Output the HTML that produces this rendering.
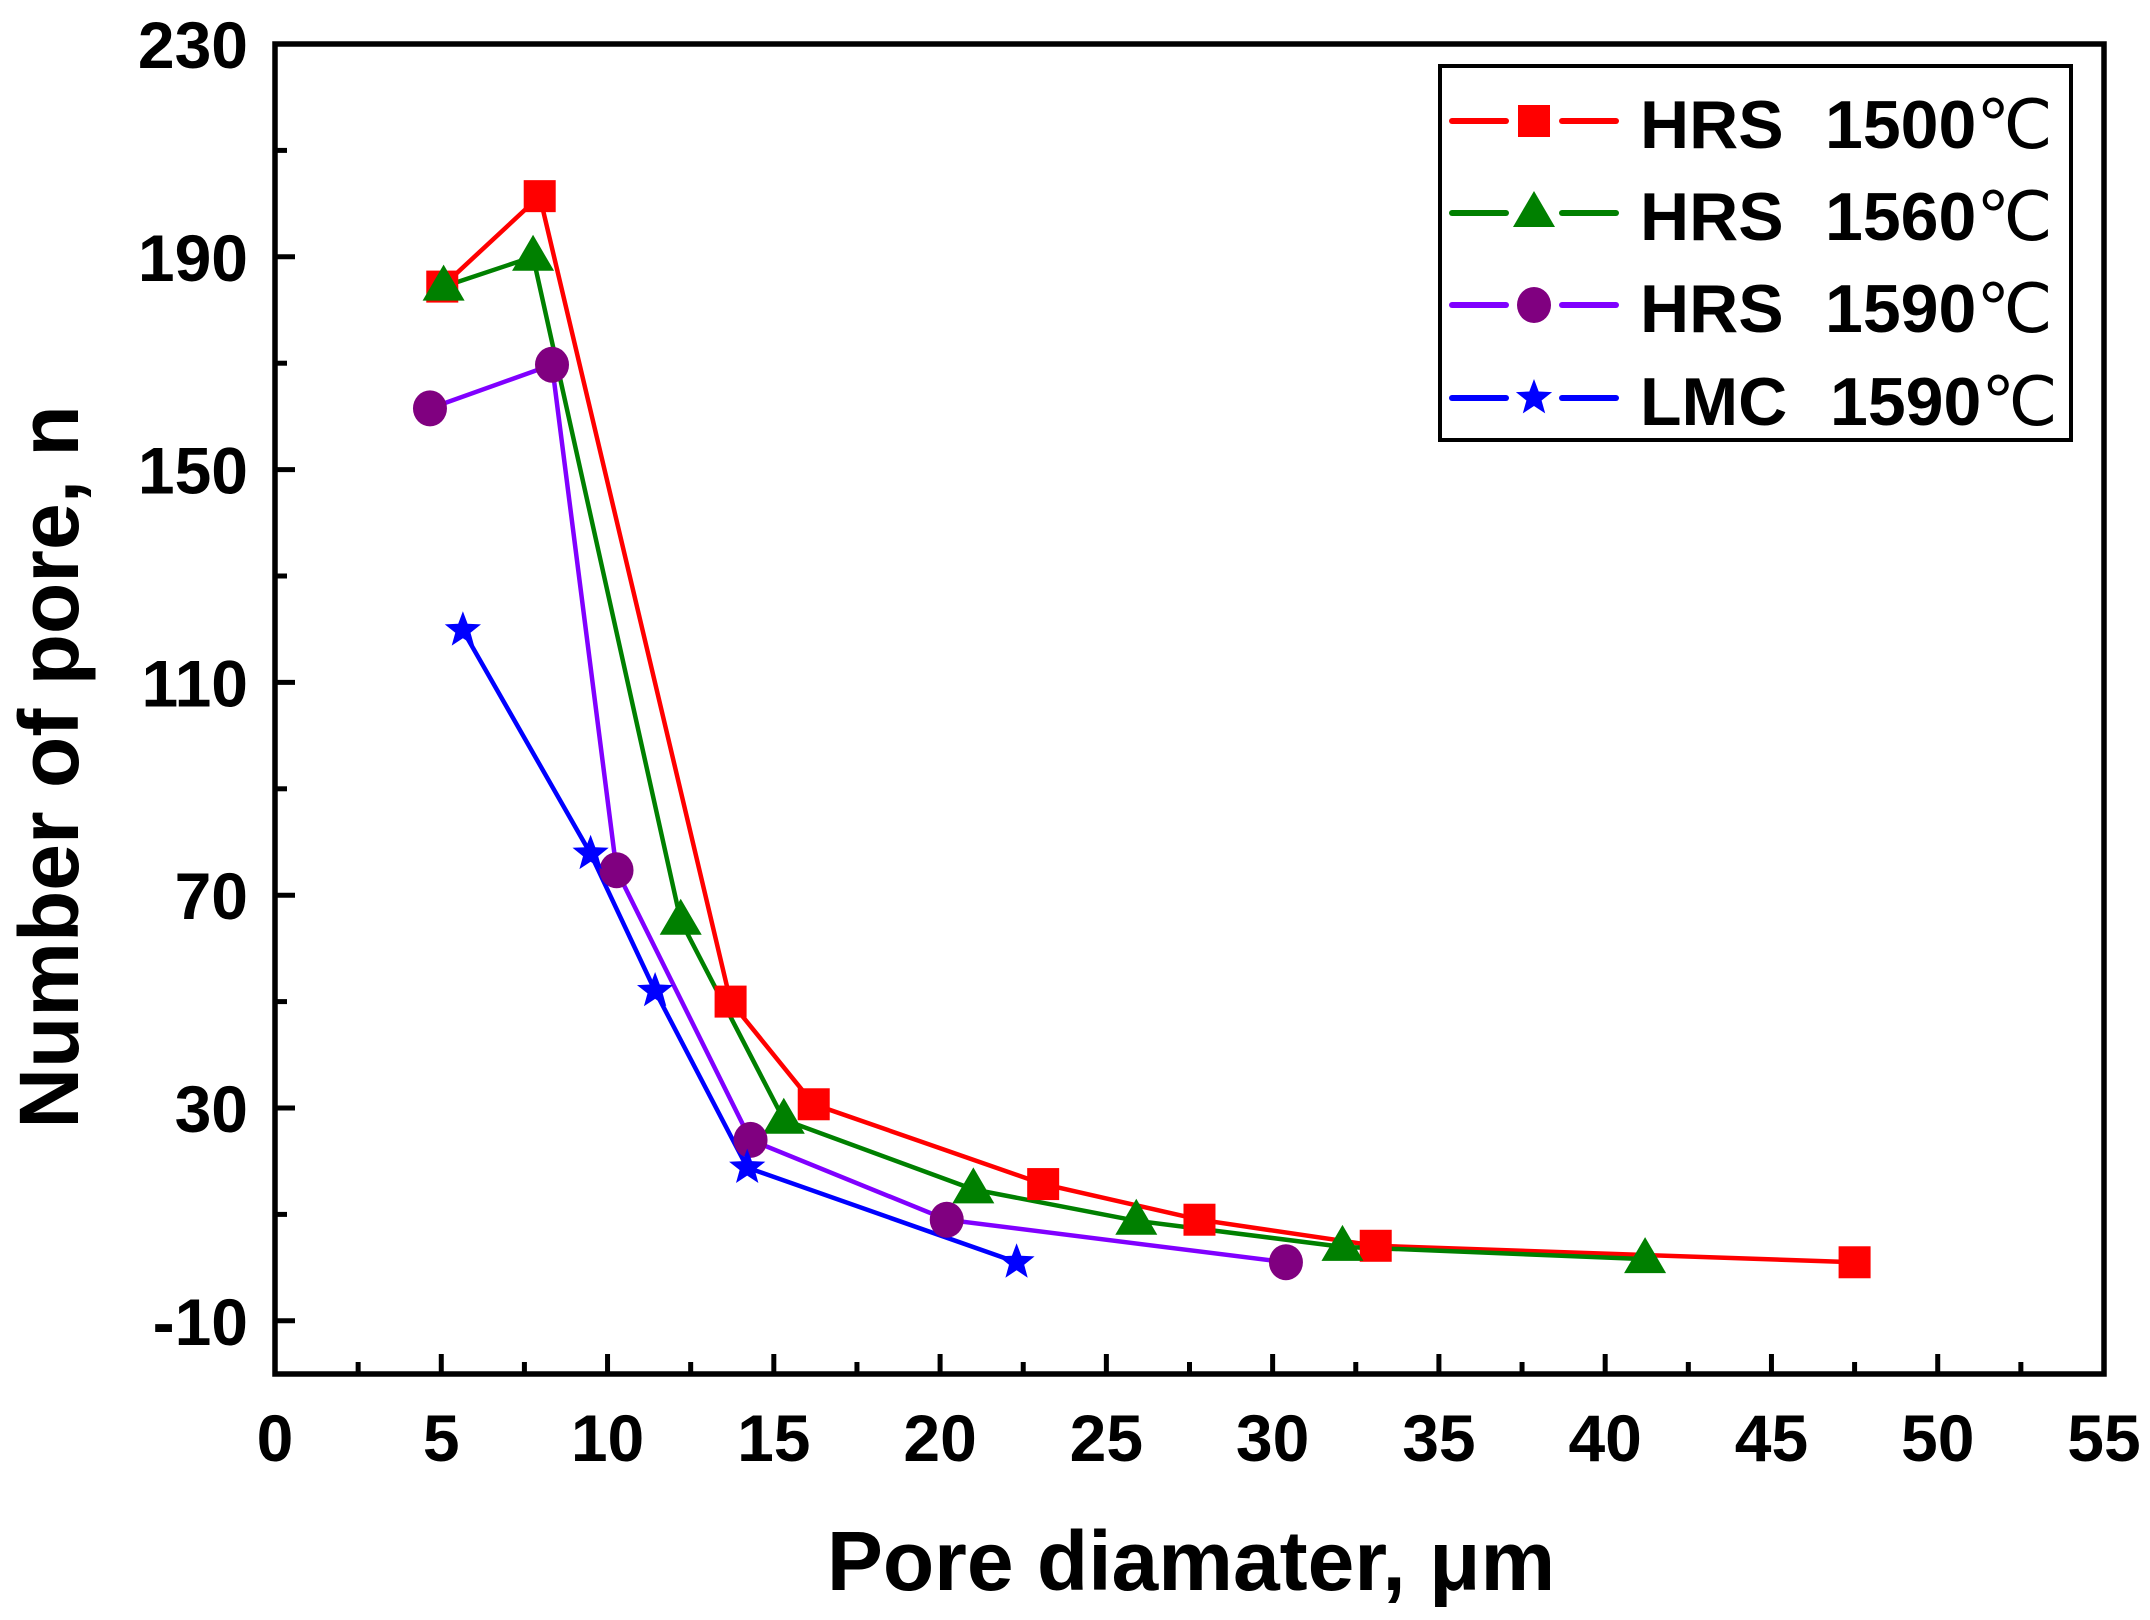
<!DOCTYPE html>
<html><head><meta charset="utf-8"><style>
html,body{margin:0;padding:0;background:#fff}
svg text{font-family:"Liberation Sans",sans-serif;font-weight:bold;fill:#000}
</style></head><body>
<svg id="chart" width="2150" height="1615" xmlns="http://www.w3.org/2000/svg"></svg>
<script>
const xTicks=[0,5,10,15,20,25,30,35,40,45,50,55];
const yTicks=[-10,30,70,110,150,190,230];
const redX=[5.03,7.96,13.7,16.2,23.1,27.8,33.1,47.5];
const redY=[184.4,201.4,50,30.7,15.7,9,4.1,1];
const greenX=[5.07,7.76,12.2,15.3,21.0,25.9,32.1,41.2];
const greenY=[184.4,190,65.2,27.8,14.7,8.8,3.9,1.6];
const purpleX=[4.66,8.33,10.27,14.3,20.2,30.4];
const purpleY=[161.5,169.7,74.7,24,9,1];
const blueX=[5.65,9.49,11.43,14.2,22.3];
const blueY=[119.8,77.8,52,18.8,1];
const legendNames=["HRS","HRS","HRS","LMC"];
const legendTemps=["1500","1560","1590","1590"];

const L=275,R=2104,T=44,B=1374;
const xMin=0,xMax=55,yMin=-20,yMax=230;
const sx=v=>L+(v-xMin)/(xMax-xMin)*(R-L);
const sy=v=>B-(v-yMin)/(yMax-yMin)*(B-T);
const svg=document.getElementById('chart');
const NS='http://www.w3.org/2000/svg';
function mk(tag,attrs,parent){const e=document.createElementNS(NS,tag);for(const k in attrs)e.setAttribute(k,attrs[k]);(parent||svg).appendChild(e);return e;}

for(let i=0;i<xTicks.length;i++){
  const x=sx(xTicks[i]);
  const t=mk('line',{x1:x,x2:x,y1:B,y2:B-20,stroke:'#000','stroke-width':5});
  
  
  if(i<xTicks.length-1){const xm=sx(xTicks[i]+2.5);
    const m=mk('line',{x1:xm,x2:xm,y1:B,y2:B-12,stroke:'#000','stroke-width':5});
    
    }
  const lb=mk('text',{x:x,y:1461,'font-size':66,'text-anchor':'middle'});
  lb.textContent=xTicks[i];
  
  
}
for(let i=0;i<yTicks.length;i++){
  const y=sy(yTicks[i]);
  const t=mk('line',{x1:L,x2:L+20,y1:y,y2:y,stroke:'#000','stroke-width':5});
  
  
  const ym=sy(yTicks[i]+20);
  if(yTicks[i]+20<yMax){const m=mk('line',{x1:L,x2:L+12,y1:ym,y2:ym,stroke:'#000','stroke-width':5});
    
    }
  const lb=mk('text',{x:248,y:y+24,'font-size':66,'text-anchor':'end'});
  lb.textContent=yTicks[i];
  
  
}
const frame=mk('rect',{x:L,y:T,width:R-L,height:B-T,fill:'none',stroke:'#000','stroke-width':5.5});



function star(cx,cy,r){let p=[];for(let k=0;k<10;k++){const a=-Math.PI/2+k*Math.PI/5;const rr=k%2?r*0.42:r;p.push((cx+rr*Math.cos(a)).toFixed(1)+','+(cy+rr*Math.sin(a)).toFixed(1));}return p.join(' ');}
function marker(type,cx,cy,fill,name){
  let e;
  if(type==='sq')e=mk('rect',{x:cx-16,y:cy-16,width:32,height:32,fill:fill});
  else if(type==='tri')e=mk('polygon',{points:`${cx},${cy-22} ${cx-21},${cy+14} ${cx+21},${cy+14}`,fill:fill});
  else if(type==='circ')e=mk('ellipse',{cx:cx,cy:cy,rx:17,ry:18,fill:fill});
  else e=mk('polygon',{points:star(cx,cy,19),fill:fill});
  
  
}
const series=[
 {xs:redX,ys:redY,line:'#ff0000',mfill:'#ff0000',m:'sq',n:'hrs-1500'},
 {xs:greenX,ys:greenY,line:'#008000',mfill:'#008000',m:'tri',n:'hrs-1560'},
 {xs:purpleX,ys:purpleY,line:'#8000ff',mfill:'#800080',m:'circ',n:'hrs-1590'},
 {xs:blueX,ys:blueY,line:'#0000ff',mfill:'#0000ff',m:'star',n:'lmc-1590'}];
series.forEach(s=>{
  const pts=s.xs.map((x,i)=>sx(x)+','+sy(s.ys[i])).join(' ');
  const pl=mk('polyline',{points:pts,fill:'none',stroke:s.line,'stroke-width':4.5});
  
  
});
series.forEach(s=>{s.xs.forEach((x,i)=>marker(s.m,sx(x),sy(s.ys[i]),s.mfill,s.n+'-point'));});

const lg=mk('rect',{x:1440,y:66,width:631,height:374,fill:'#fff',stroke:'#000','stroke-width':4});


const ly=[121,213,305,398];
series.forEach((s,i)=>{
  const y=ly[i];
  const a=mk('line',{x1:1452,x2:1506,y1:y,y2:y,stroke:s.line,'stroke-width':6,'stroke-linecap':'round'});
  
  
  const b=mk('line',{x1:1562,x2:1616,y1:y,y2:y,stroke:s.line,'stroke-width':6,'stroke-linecap':'round'});
  
  
  marker(s.m,1534,y,s.mfill,'legend-marker');
  const t=mk('text',{x:1640,y:y+27,'font-size':68});
  
  
  const t1=mk('tspan',{},t); t1.textContent=legendNames[i];
  const t2=mk('tspan',{x:i===3?1830:1825},t); t2.textContent=legendTemps[i];
  const t3=mk('tspan',{'font-weight':'normal'},t); t3.textContent='℃';
});

const xt=mk('text',{x:1191,y:1590,'font-size':84,'text-anchor':'middle'});
xt.textContent='Pore diamater, μm';


const yt=mk('text',{x:0,y:0,'font-size':84,'text-anchor':'middle',transform:'translate(78,767) rotate(-90)'});
yt.textContent='Number of pore, n';


</script>
</body></html>
